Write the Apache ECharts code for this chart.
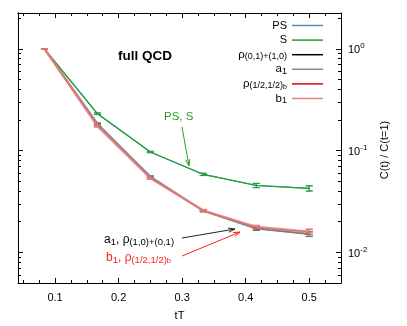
<!DOCTYPE html>
<html>
<head>
<meta charset="utf-8">
<script src="https://cdn.jsdelivr.net/npm/echarts@6/dist/echarts.min.js"></script>
<style>
  html, body { margin: 0; padding: 0; background: #fff; }
  #main { width: 407px; height: 326px; }
</style>
</head>
<body>
<div id="main"></div>
<script>
// tT values (t/12)
const tT = [1 / 12, 2 / 12, 3 / 12, 4 / 12, 5 / 12, 6 / 12];

// C(t)/C(t=1) per channel, with errors
const psVal = [1, 0.231, 0.0970, 0.0585, 0.0455, 0.0426];
const psErr = [0, 0.004, 0.0015, 0.0015, 0.0022, 0.0025];
const sVal = [1, 0.230, 0.0968, 0.0583, 0.0454, 0.0425];
const sErr = [0, 0.004, 0.0015, 0.0015, 0.0022, 0.0025];
const rho01Val = [1, 0.183, 0.0552, 0.0256, 0.0171, 0.0151];
const rho01Err = [0, 0.003, 0.0010, 0.0005, 0.0006, 0.0008];
const a1Val = [1, 0.184, 0.0555, 0.0256, 0.0172, 0.0152];
const a1Err = [0, 0.003, 0.0010, 0.0005, 0.0006, 0.0008];
const rhobVal = [1, 0.175, 0.0536, 0.0257, 0.0177, 0.0159];
const rhobErr = [0, 0.003, 0.0010, 0.0005, 0.0006, 0.0009];
const b1Val = [1, 0.174, 0.0534, 0.0258, 0.0178, 0.0160];
const b1Err = [0, 0.003, 0.0010, 0.0005, 0.0006, 0.0009];

// axes
const xMajor = [0.1, 0.2, 0.3, 0.4, 0.5];
const xMinor = [0.05, 0.075, 0.125, 0.15, 0.175, 0.225, 0.25, 0.275, 0.325, 0.35, 0.375, 0.425, 0.45, 0.475, 0.525, 0.55];
const yDecades = [-2, -1, 0];

const X_MIN = 1 / 24, X_MAX = 0.55;
const Y_MIN = Math.log10(0.005), Y_MAX = Math.log10(2.25);

const yMinor = [];
[-3, -2, -1, 0].forEach(d => {
  for (let k = 2; k <= 9; k++) {
    const v = Math.log10(k) + d;
    if (v >= Y_MIN - 1e-9 && v <= Y_MAX) yMinor.push(v);
  }
});

const FONT = '"Liberation Sans", Arial, sans-serif';

const chans = [
  { name: 'PS', val: psVal, err: psErr, color: '#4a8fc4', width: 1.2 },
  { name: 'S', val: sVal, err: sErr, color: '#24a024', width: 1.2 },
  { name: 'rho01', val: rho01Val, err: rho01Err, color: '#000000', width: 1 },
  { name: 'a1', val: a1Val, err: a1Err, color: '#8a8a8a', width: 2.2, opacity: 0.85 },
  { name: 'rhob', val: rhobVal, err: rhobErr, color: '#cc1010', width: 1 },
  { name: 'b1', val: b1Val, err: b1Err, color: '#e88080', width: 2.2, opacity: 0.9 }
];

const legendText = {
  PS: 'PS',
  S: 'S',
  rho01: '{n|ρ}{s|(0,1)+(1,0)}',
  a1: '{n|a}{s|1}',
  rhob: '{n|ρ}{s|(1/2,1/2)}{ss|b}',
  b1: '{n|b}{s|1}'
};

const series = [];
chans.forEach(c => {
  series.push({
    name: c.name,
    type: 'line',
    symbol: 'none',
    data: tT.map((x, i) => [x, Math.log10(c.val[i])]),
    lineStyle: { color: c.color, width: c.width, opacity: c.opacity || 1 },
    itemStyle: { color: c.color },
    silent: true
  });
  series.push({
    name: c.name + '-err',
    type: 'custom',
    data: tT.map((x, i) => [x, Math.log10(c.val[i] - c.err[i]), Math.log10(c.val[i] + c.err[i])]),
    encode: { x: 0, y: [1, 2] },
    silent: true,
    renderItem: function (params, api) {
      const x = api.value(0);
      const lo = api.coord([x, api.value(1)]);
      const hi = api.coord([x, api.value(2)]);
      const w = 3.5;
      const st = { stroke: c.color, lineWidth: c.width > 1.5 ? 1.6 : 1, opacity: c.opacity || 1 };
      return {
        type: 'group',
        children: [
          { type: 'line', shape: { x1: lo[0], y1: lo[1], x2: hi[0], y2: hi[1] }, style: st },
          { type: 'line', shape: { x1: lo[0] - w, y1: lo[1], x2: lo[0] + w, y2: lo[1] }, style: st },
          { type: 'line', shape: { x1: hi[0] - w, y1: hi[1], x2: hi[0] + w, y2: hi[1] }, style: st }
        ]
      };
    }
  });
});

function xAx(pos, vals, len, labels) {
  return {
    type: 'value', position: pos, min: X_MIN, max: X_MAX,
    axisLine: { show: labels || pos === 'top', onZero: false, lineStyle: { color: '#000', width: 1 } },
    axisTick: { inside: true, length: len, customValues: vals, lineStyle: { color: '#000' } },
    axisLabel: labels ? {
      customValues: vals, formatter: v => v.toFixed(1), margin: 9,
      fontSize: 11, color: '#000', fontFamily: FONT
    } : { show: false },
    splitLine: { show: false },
    name: labels ? 'tT' : '', nameLocation: 'middle', nameGap: 27,
    nameTextStyle: { fontSize: 11, color: '#000', fontFamily: FONT }
  };
}

function yAx(pos, vals, len, labels) {
  return {
    type: 'value', position: pos, min: Y_MIN, max: Y_MAX,
    axisLine: { show: labels || pos === 'left', onZero: false, lineStyle: { color: '#000', width: 1 } },
    axisTick: { inside: true, length: len, customValues: vals, lineStyle: { color: '#000' } },
    axisLabel: labels ? {
      customValues: vals, margin: 7,
      formatter: v => '{b|10}{s|' + Math.round(v) + '}',
      rich: {
        b: { fontSize: 11, color: '#000', fontFamily: FONT, lineHeight: 14, verticalAlign: 'bottom' },
        s: { fontSize: 8, color: '#000', fontFamily: FONT, lineHeight: 14, verticalAlign: 'top' }
      }
    } : { show: false },
    splitLine: { show: false }
  };
}

const chart = echarts.init(document.getElementById('main'), null, { renderer: 'canvas' });

const option = {
  animation: false,
  backgroundColor: '#fff',
  grid: { left: 18, right: 66, top: 13, bottom: 39, containLabel: false },
  xAxis: [
    xAx('bottom', xMajor, 5, true),
    xAx('bottom', xMinor, 3, false),
    xAx('top', xMajor, 5, false),
    xAx('top', xMinor, 3, false)
  ],
  yAxis: [
    yAx('right', yDecades, 5, true),
    yAx('right', yMinor, 3, false),
    yAx('left', yDecades, 5, false),
    yAx('left', yMinor, 3, false)
  ],
  legend: {
    data: chans.map(c => c.name),
    orient: 'vertical',
    right: 79,
    top: 14,
    align: 'right',
    icon: 'rect',
    itemWidth: 31,
    itemHeight: 1.5,
    itemGap: 1.6,
    selectedMode: false,
    formatter: name => legendText[name],
    textStyle: {
      fontSize: 11, color: '#000', fontFamily: FONT, lineHeight: 13,
      rich: {
        n: { fontSize: 11.5, color: '#000', fontFamily: FONT, lineHeight: 13 },
        s: { fontSize: 9, color: '#000', fontFamily: FONT, lineHeight: 13, verticalAlign: 'bottom', padding: [3, 0, 0, 0] },
        ss: { fontSize: 7, color: '#000', fontFamily: FONT, lineHeight: 13, verticalAlign: 'bottom', padding: [5, 0, 0, 0] }
      }
    }
  },
  title: {
    text: 'full QCD', left: 113, top: 44,
    textStyle: { fontSize: 13.5, fontWeight: 'bold', color: '#000', fontFamily: FONT }
  },
  series: series
};

chart.setOption(option);

// annotations (pixel positions)
function arrow(x1, y1, x2, y2, color) {
  const ang = Math.atan2(y2 - y1, x2 - x1);
  const L = 7, a = 0.3;
  const p1 = [x2 - L * Math.cos(ang - a), y2 - L * Math.sin(ang - a)];
  const p2 = [x2 - L * Math.cos(ang + a), y2 - L * Math.sin(ang + a)];
  return [
    { type: 'line', shape: { x1, y1, x2, y2 }, style: { stroke: color, lineWidth: 1 } },
    { type: 'polyline', shape: { points: [p1, [x2, y2], p2] }, style: { stroke: color, lineWidth: 1, fill: null } }
  ];
}

const annRich = (col) => ({
  n: { fontSize: 12, color: col, fontFamily: FONT, lineHeight: 14 },
  s: { fontSize: 9.5, color: col, fontFamily: FONT, lineHeight: 14, verticalAlign: 'bottom', padding: [4, 0, 0, 0] },
  ss: { fontSize: 7.5, color: col, fontFamily: FONT, lineHeight: 14, verticalAlign: 'bottom', padding: [8, 0, 0, 0] }
});

chart.setOption({
  graphic: [
    { type: 'text', left: 164, top: 111, style: { text: 'PS, S', fontSize: 11.5, fontFamily: FONT, fill: '#24a024' } },
    ...arrow(182, 127, 189, 166, '#24a024'),
    {
      type: 'text', left: 104, top: 233,
      style: { text: '{n|a}{s|1}{n|, ρ}{s|(1,0)+(0,1)}', rich: annRich('#000'), fill: '#000' }
    },
    ...arrow(182, 238, 235, 229, '#222'),
    {
      type: 'text', left: 106, top: 249,
      style: { text: '{n|b}{s|1}{n|, ρ}{s|(1/2,1/2)}{ss|b}', rich: annRich('#ff2020'), fill: '#ff2020' }
    },
    ...arrow(182, 256, 240, 232, '#ff2020'),
    {
      type: 'text', x: 385, y: 150, rotation: Math.PI / 2,
      style: { text: 'C(t) / C(t=1)', fontSize: 11, fontFamily: FONT, fill: '#000', align: 'center', verticalAlign: 'middle' }
    }
  ]
});
</script>
</body>
</html>
